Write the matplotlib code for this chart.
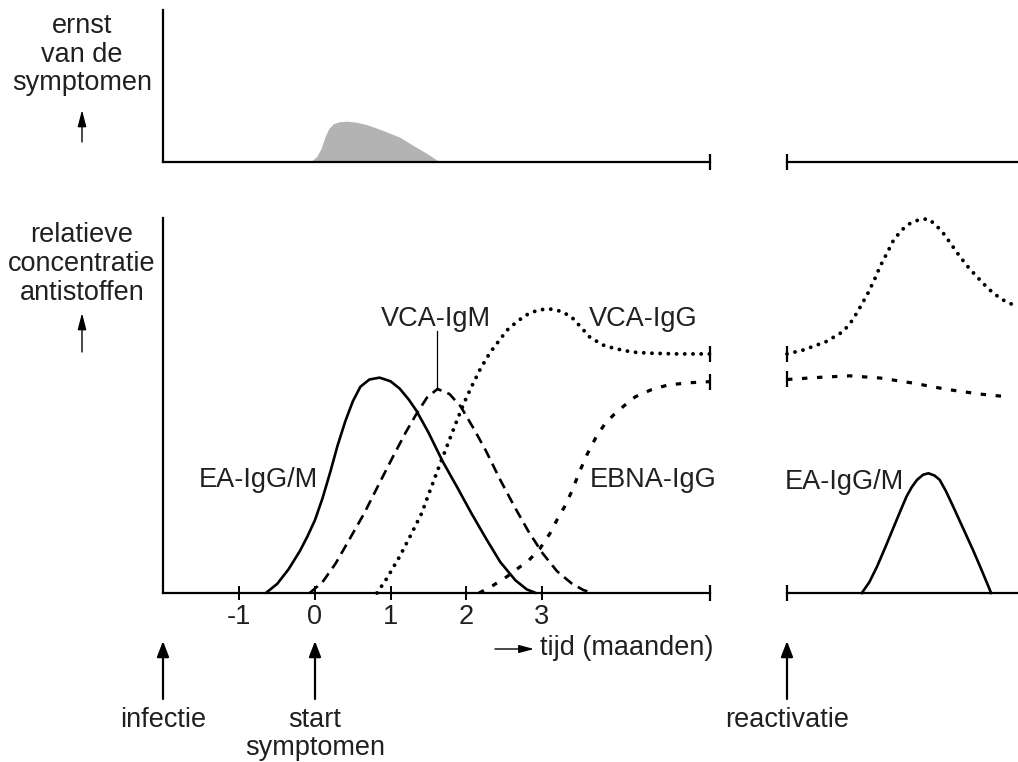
import numpy as np
import matplotlib
matplotlib.use('Agg')
from matplotlib import pyplot as plt

plt.rcParams['font.family'] = ['Liberation Sans', 'DejaVu Sans']

# ---- data: tijd in maanden, relatieve hoogte ----
# ernst van de symptomen
symp_t = [-0.11, -0.04, 0.02, 0.08, 0.13, 0.18, 0.24, 0.32, 0.42, 0.55, 0.68, 0.9, 1.12, 1.3, 1.48, 1.65]
symp_y = [0.0, 0.01, 0.035, 0.09, 0.166, 0.22, 0.255, 0.268, 0.272, 0.265, 0.25, 0.21, 0.166, 0.11, 0.057, 0.0]

# primaire infectie
ea_t = [-0.65, -0.5, -0.35, -0.2, -0.1, 0.0, 0.1, 0.2, 0.3, 0.4, 0.5, 0.6, 0.72, 0.855, 1.0, 1.12, 1.24,
        1.34, 1.5, 1.69, 1.88, 2.07, 2.26, 2.45, 2.65, 2.8, 2.92]
ea_y = [0.0, 0.025, 0.065, 0.115, 0.155, 0.2, 0.26, 0.33, 0.405, 0.47, 0.525, 0.565, 0.585, 0.59, 0.58, 0.56, 0.53,
        0.50, 0.44, 0.36, 0.29, 0.218, 0.15, 0.085, 0.035, 0.01, 0.0]

igm_t = [-0.07, 0.1, 0.27, 0.45, 0.65, 0.85, 1.03, 1.2, 1.34, 1.48, 1.62, 1.78, 1.93, 2.1, 2.26, 2.45,
         2.64, 2.82, 3.01, 3.2, 3.39, 3.55, 3.68]
igm_y = [0.0, 0.03, 0.08, 0.145, 0.218, 0.3, 0.373, 0.44, 0.49, 0.535, 0.559, 0.545, 0.51, 0.45, 0.39, 0.31,
         0.236, 0.17, 0.109, 0.06, 0.027, 0.008, 0.0]

igg_t = [0.82, 0.95, 1.12, 1.27, 1.41, 1.52, 1.64, 1.76, 1.88, 1.97, 2.07, 2.19, 2.31, 2.43, 2.54, 2.68,
         2.83, 2.97, 3.11, 3.25, 3.39, 3.51, 3.63, 3.8, 3.96, 4.2, 4.43, 4.8, 5.22]
igg_y = [0.0, 0.04, 0.10, 0.16, 0.218, 0.28, 0.346, 0.41, 0.474, 0.52, 0.565, 0.615, 0.657, 0.69, 0.72, 0.745,
         0.766, 0.776, 0.778, 0.772, 0.757, 0.73, 0.702, 0.68, 0.67, 0.66, 0.657, 0.655, 0.655]

ebna_t = [2.17, 2.35, 2.54, 2.7, 2.83, 2.97, 3.11, 3.2, 3.3, 3.4, 3.49, 3.6, 3.72, 3.84, 3.96, 4.1,
          4.24, 4.45, 4.67, 4.95, 5.22]
ebna_y = [0.0, 0.02, 0.045, 0.07, 0.09, 0.12, 0.164, 0.2, 0.236, 0.28, 0.328, 0.38, 0.428, 0.465, 0.49, 0.515,
          0.538, 0.557, 0.57, 0.576, 0.579]

# reactivatie (tijd vanaf reactivatie)
r_igg_t = [0.0, 0.22, 0.52, 0.74, 0.84, 0.92, 1.0, 1.08, 1.16, 1.23, 1.32, 1.41, 1.52, 1.63, 1.75, 1.87,
           1.97, 2.07, 2.18, 2.29, 2.4, 2.51, 2.62, 2.73, 2.88, 3.05]
r_igg_y = [0.655, 0.666, 0.689, 0.716, 0.74, 0.766, 0.795, 0.825, 0.86, 0.894, 0.93, 0.967, 0.995, 1.013, 1.023, 1.025,
           1.008, 0.985, 0.953, 0.921, 0.892, 0.867, 0.843, 0.821, 0.8, 0.784]

r_ebna_t = [0.0, 0.44, 0.83, 1.23, 1.67, 2.11, 2.55, 2.9]
r_ebna_y = [0.585, 0.591, 0.595, 0.589, 0.575, 0.558, 0.545, 0.538]

r_ea_t = [0.99, 1.09, 1.19, 1.3, 1.41, 1.5, 1.58, 1.65, 1.72, 1.8, 1.87, 1.95, 2.02, 2.1, 2.2, 2.33, 2.46, 2.58, 2.7]
r_ea_y = [0.0, 0.03, 0.072, 0.125, 0.18, 0.225, 0.264, 0.29, 0.31, 0.324, 0.328, 0.322, 0.31, 0.28, 0.236, 0.177,
          0.118, 0.06, 0.0]

tick_pos = [-1, 0, 1, 2, 3]
tick_lbl = ['-1', '0', '1', '2', '3']

# ---- layout (pixels) ----
W, H = 1018, 762
PX_MONTH = 75.6
X0 = 315
PX_UNIT = 365
TXT = '#231f20'
FS = 19.5

fig = plt.figure(figsize=(W / 100, H / 100), dpi=100)


def add_ax(left, right, top, bottom):
    return fig.add_axes([left / W, 1 - bottom / H, (right - left) / W, (bottom - top) / H])


def style(ax):
    ax.patch.set_alpha(0)
    for s in ax.spines.values():
        s.set_visible(False)
    ax.set_yticks([])
    ax.set_xticks([])


lw_axis = 1.6
endtick = dict(marker='|', markersize=11, markeredgewidth=1.6, color='black', clip_on=False, linestyle='none')
dotted = dict(color='black', lw=2.8, linestyle=(0, (0.01, 2.1)), dash_capstyle='round', clip_on=False)
shortdash = dict(color='black', lw=2.3, linestyle=(0, (1.7, 3.0)), clip_on=False)

# symptomen, links
ax_s = add_ax(163, 710, 10, 162)
style(ax_s)
ax_s.set_xlim((163 - X0) / PX_MONTH, (710 - X0) / PX_MONTH)
ax_s.set_ylim(0, 152 / 150)
ax_s.spines['left'].set_visible(True)
ax_s.spines['bottom'].set_visible(True)
ax_s.spines['left'].set_linewidth(lw_axis)
ax_s.spines['bottom'].set_linewidth(lw_axis)
ax_s.fill_between(symp_t, symp_y, 0, color='#b3b3b3', linewidth=0)
ax_s.plot([ax_s.get_xlim()[1]], [0], **endtick)

# symptomen, rechts
ax_sr = add_ax(787, 1018, 10, 162)
style(ax_sr)
ax_sr.set_xlim(0, (1018 - 787) / PX_MONTH)
ax_sr.set_ylim(0, 1)
ax_sr.spines['bottom'].set_visible(True)
ax_sr.spines['bottom'].set_linewidth(lw_axis)
ax_sr.plot([0], [0], **endtick)

# antistoffen, links
ax = add_ax(163, 710, 218, 593)
style(ax)
xmax = (710 - X0) / PX_MONTH
ax.set_xlim((163 - X0) / PX_MONTH, xmax)
ax.set_ylim(0, (593 - 218) / PX_UNIT)
ax.spines['left'].set_visible(True)
ax.spines['bottom'].set_visible(True)
ax.spines['left'].set_linewidth(lw_axis)
ax.spines['bottom'].set_linewidth(lw_axis)
ax.set_xticks(tick_pos)
ax.set_xticklabels(tick_lbl, fontsize=FS, color=TXT)
ax.tick_params(axis='x', direction='inout', length=9.5, width=1.4, pad=3)

ax.plot(ea_t, ea_y, color='black', lw=1.9, solid_capstyle='round', clip_on=False)
ax.plot(igm_t, igm_y, color='black', lw=1.9, linestyle=(0, (4, 2.4)), clip_on=False)
ax.plot(igg_t, igg_y, **dotted)
ax.plot(ebna_t, ebna_y, **shortdash)
ax.plot([xmax, xmax, xmax], [0, igg_y[-1], ebna_y[-1]], **endtick)
# aanwijslijn VCA-IgM
pk = int(np.argmax(igm_y))
ax.plot([igm_t[pk], igm_t[pk]], [igm_y[pk], (593 - 331) / PX_UNIT], color='black', lw=0.9, clip_on=False)

# antistoffen, rechts
ax_r = add_ax(787, 1018, 200, 593)
style(ax_r)
ax_r.set_xlim(0, (1018 - 787) / PX_MONTH)
ax_r.set_ylim(0, (593 - 200) / PX_UNIT)
ax_r.spines['bottom'].set_visible(True)
ax_r.spines['bottom'].set_linewidth(lw_axis)
ax_r.plot(r_ea_t, r_ea_y, color='black', lw=1.9, clip_on=False)
ax_r.plot(r_igg_t, r_igg_y, **dotted)
ax_r.plot(r_ebna_t, r_ebna_y, **shortdash)
ax_r.plot([0, 0, 0], [0, r_igg_y[0], r_ebna_y[0]], **endtick)

# ---- teksten en pijlen (pixelcoordinaten) ----
ov = fig.add_axes([0, 0, 1, 1])
ov.set_xlim(0, W)
ov.set_ylim(H, 0)
ov.axis('off')
ov.patch.set_alpha(0)


def txt(x, y, s, ha='center'):
    ov.text(x, y, s, ha=ha, va='baseline', fontsize=FS, color=TXT)


def arrow(x0, y0, x1, y1, lw=1.6, hl=0.47, hw=0.18):
    ov.annotate('', xy=(x1, y1), xytext=(x0, y0),
                arrowprops=dict(arrowstyle='-|>,head_length=%s,head_width=%s' % (hl, hw),
                                color='black', lw=lw, mutation_scale=20,
                                shrinkA=0, shrinkB=0))


txt(82, 33, 'ernst')
txt(82, 62, 'van de')
txt(82, 90, 'symptomen')
arrow(82, 142, 82, 110, lw=1.0, hl=0.5, hw=0.13)

txt(82, 242, 'relatieve')
txt(82, 271, 'concentratie')
txt(82, 300, 'antistoffen')
arrow(82, 352, 82, 313, lw=1.0, hl=0.5, hw=0.13)

txt(436, 326, 'VCA-IgM')
txt(589, 326, 'VCA-IgG', ha='left')
txt(318, 487, 'EA-IgG/M', ha='right')
txt(590, 487, 'EBNA-IgG', ha='left')
txt(785, 489, 'EA-IgG/M', ha='left')

arrow(495, 649, 534, 649, lw=1.0, hl=0.45, hw=0.12)
txt(540, 655, 'tijd (maanden)', ha='left')

for xa in [163, 315, 787]:
    arrow(xa, 699, xa, 641)
txt(163.5, 727, 'infectie')
txt(315, 727, 'start')
txt(315, 755, 'symptomen')
txt(787, 727, 'reactivatie')

fig.savefig('out.png', dpi=100)
